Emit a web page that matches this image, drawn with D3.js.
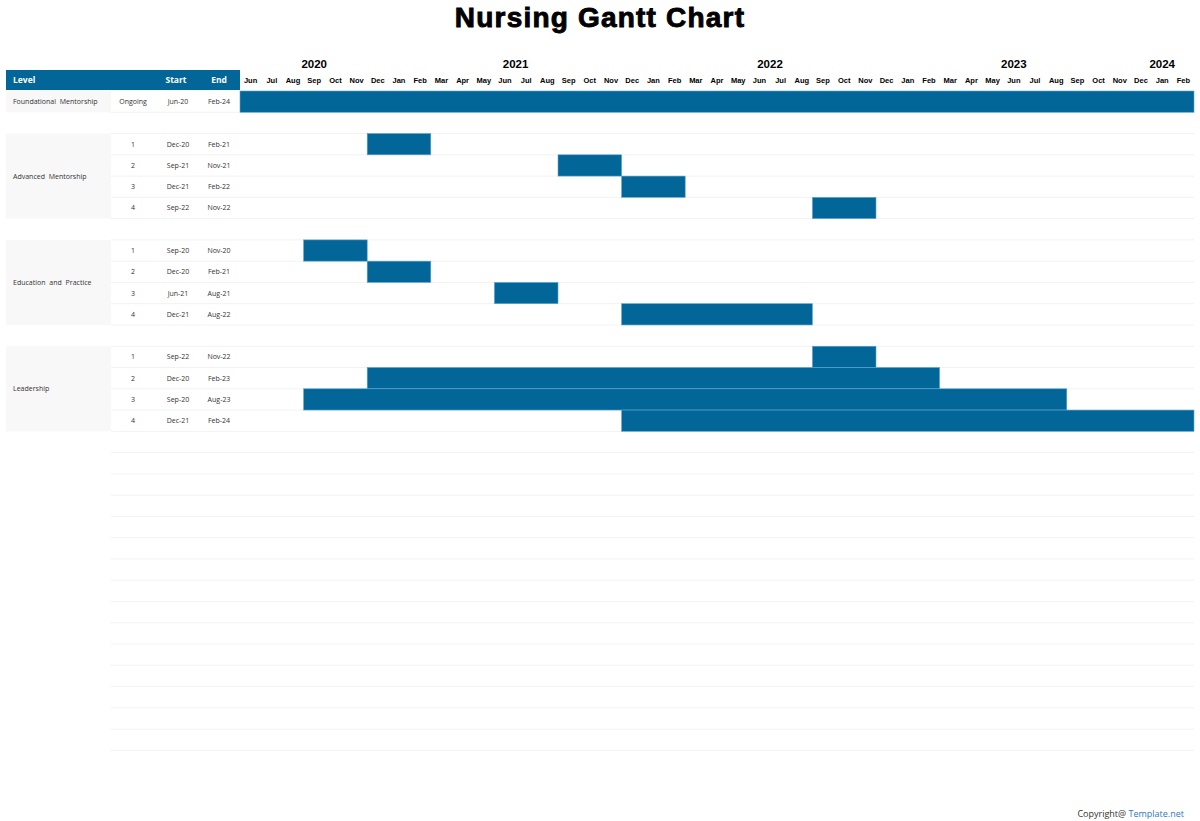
<!DOCTYPE html>
<html>
<head>
<meta charset="utf-8">
<script src="https://cdn.jsdelivr.net/npm/d3@7"></script>
<style>
  body { margin: 0; background: #fff; }
  svg { display: block; }
</style>
</head>
<body>
<div id="chart"></div>
<script>
// chart data
var groups = ["Foundational Mentorship", "Advanced Mentorship", "Education and Practice", "Leadership"];
var taskGroup = [0, 1, 1, 1, 1, 2, 2, 2, 2, 3, 3, 3, 3];
var taskLabel = ["Ongoing", "1", "2", "3", "4", "1", "2", "3", "4", "1", "2", "3", "4"];
var taskStart = ["Jun-20", "Dec-20", "Sep-21", "Dec-21", "Sep-22", "Sep-20", "Dec-20", "Jun-21", "Dec-21", "Sep-22", "Dec-20", "Sep-20", "Dec-21"];
var taskEnd = ["Feb-24", "Feb-21", "Nov-21", "Feb-22", "Nov-22", "Nov-20", "Feb-21", "Aug-21", "Aug-22", "Nov-22", "Feb-23", "Aug-23", "Feb-24"];
var yearLabels = ["2020", "2021", "2022", "2023", "2024"];
var yearAnchor = ["Sep-20", "Jul-21", "Jul-22", "Jun-23", "Jan-24"];
var yearShift = [0.5, 0, 0, 0.5, 0.5];

var W = 1200, H = 821;
var barColor = "#036699";
var parse = d3.timeParse("%b-%y"), fmt = d3.timeFormat("%b-%y");

var months = d3.timeMonth.range(parse("Jun-20"), parse("Mar-24")).map(fmt);

var svg = d3.select("#chart").append("svg")
  .attr("width", W).attr("height", H);

// month scale
var x = d3.scaleBand().domain(months).range([240, 1194]).paddingInner(0).paddingOuter(0);

// row layout: one row per task, blank row between groups, empty rows below
var rowIndex = [];
var r = 0;
taskGroup.forEach(function (g, i) {
  if (i > 0 && g !== taskGroup[i - 1]) r++;
  rowIndex.push(r);
  r++;
});
var totalRows = 31;
var y = d3.scaleBand().domain(d3.range(totalRows)).range([91, 91 + totalRows * 21.27]);
var rh = y.bandwidth();

// title
svg.append("text")
  .attr("x", 600).attr("y", 27)
  .attr("text-anchor", "middle")
  .style("font-family", "Liberation Sans, Arial, sans-serif")
  .style("font-weight", "bold").style("font-size", "28px")
  .style("letter-spacing", "1.2px")
  .style("stroke", "#000").style("stroke-width", "0.9px")
  .text("Nursing Gantt Chart");

// level cell backgrounds
groups.forEach(function (g, gi) {
  var rows = rowIndex.filter(function (d, i) { return taskGroup[i] === gi; });
  var top = y(d3.min(rows)), bot = y(d3.max(rows)) + rh;
  svg.append("rect")
    .attr("x", 6).attr("y", top).attr("width", 105).attr("height", bot - top)
    .attr("fill", "#f8f8f8");
  svg.append("text")
    .attr("x", 13).attr("y", (top + bot) / 2 + 2.5)
    .style("font-family", "Open Sans, DejaVu Sans, sans-serif")
    .style("font-size", "7px").style("word-spacing", "2px")
    .attr("fill", "#333")
    .text(g);
});

// grid lines
svg.append("g").selectAll("line")
  .data(d3.range(totalRows))
  .enter().append("line")
  .attr("x1", 111).attr("x2", 1194)
  .attr("y1", function (d) { return y(d) + rh; })
  .attr("y2", function (d) { return y(d) + rh; })
  .attr("stroke", "#f2f2f2").attr("stroke-width", 1);

// header
svg.append("rect").attr("x", 6).attr("y", 70).attr("width", 234).attr("height", 20).attr("fill", barColor);
var headTxt = [["Level", 13, "start"], ["Start", 176, "middle"], ["End", 219, "middle"]];
headTxt.forEach(function (h) {
  svg.append("text")
    .attr("x", h[1]).attr("y", 83)
    .attr("text-anchor", h[2])
    .attr("fill", "#fff")
    .style("font-family", "Open Sans, DejaVu Sans, sans-serif")
    .style("font-weight", "bold").style("font-size", "8.5px")
    .text(h[0]);
});

// month labels
svg.append("g").selectAll("text")
  .data(months)
  .enter().append("text")
  .attr("x", function (d) { return x(d) + x.bandwidth() / 2; })
  .attr("y", 83)
  .attr("text-anchor", "middle")
  .style("font-family", "Liberation Sans, Arial, sans-serif")
  .style("font-weight", "bold").style("font-size", "7.5px")
  .text(function (d) { return d.slice(0, 3); });

// year labels
svg.append("g").selectAll("text")
  .data(yearLabels)
  .enter().append("text")
  .attr("x", function (d, i) { return x(yearAnchor[i]) + yearShift[i] * x.bandwidth(); })
  .attr("y", 68)
  .attr("text-anchor", "middle")
  .style("font-family", "Liberation Sans, Arial, sans-serif")
  .style("font-weight", "bold").style("font-size", "11.5px")
  .text(function (d) { return d; });

// task table text
var cols = [[taskLabel, 133], [taskStart, 178], [taskEnd, 219]];
cols.forEach(function (c) {
  svg.append("g").selectAll("text")
    .data(c[0])
    .enter().append("text")
    .attr("x", c[1])
    .attr("y", function (d, i) { return y(rowIndex[i]) + rh / 2 + 2.5; })
    .attr("text-anchor", "middle")
    .attr("fill", "#333")
    .style("font-family", "Open Sans, DejaVu Sans, sans-serif")
    .style("font-size", "7px")
    .text(function (d) { return d; });
});

// bars
svg.append("g").selectAll("rect")
  .data(taskStart)
  .enter().append("rect")
  .attr("x", function (d) { return x(d); })
  .attr("y", function (d, i) { return y(rowIndex[i]); })
  .attr("width", function (d, i) { return x(taskEnd[i]) + x.bandwidth() - x(d); })
  .attr("height", rh)
  .attr("fill", barColor)
  .attr("stroke", "#5ea6d2").attr("stroke-width", 0.6);

// footer
var foot = svg.append("text")
  .attr("x", 1184).attr("y", 817)
  .attr("text-anchor", "end")
  .style("font-family", "Open Sans, DejaVu Sans, sans-serif")
  .style("font-size", "9px");
foot.append("tspan").attr("fill", "#333").text("Copyright@ ");
foot.append("tspan").attr("fill", "#2f79b9").text("Template.net");
</script>
</body>
</html>
